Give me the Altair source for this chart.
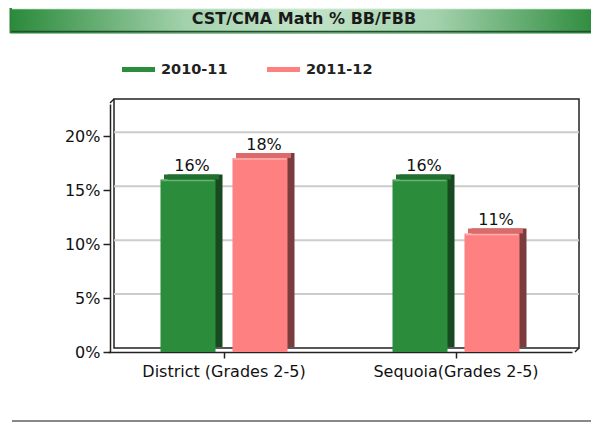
import altair as alt
import pandas as pd

# ---- data ----
categories = ["District (Grades 2-5)", "Sequoia(Grades 2-5)"]
series = ["2010-11", "2011-12"]
values_2010_11 = [16, 16]
values_2011_12 = [18, 11]
y_ticks = [0, 5, 10, 15, 20]
grid_ticks = [5, 10, 15, 20]
title_text = "CST/CMA Math % BB/FBB"

# ---- styles ----
front_colors = ["#2b8c3c", "#ff8080"]
top_colors = ["#22702f", "#dc6a6a"]
side_colors = ["#174a20", "#7a3c3c"]
hl_colors = ["#7cc488", "#ffc4c4"]
bar_offsets = [-36, 36]
FONT = "DejaVu Sans"
W, H = 465, 248

rows = []
for s, vals in zip(series, [values_2010_11, values_2011_12]):
    for c, v in zip(categories, vals):
        rows.append({"category": c, "series": s, "value": v})
df = pd.DataFrame(rows)

x_scale = alt.Scale(domain=categories, range=[-2, 462], paddingInner=0, paddingOuter=0)
y_scale = alt.Scale(domain=[0, 23], nice=False, zero=True)

x_axis = alt.Axis(title=None, labelAngle=0, labelFont=FONT, labelFontSize=16,
                  labelColor="#111", tickSize=6, tickColor="#222", tickWidth=1.5,
                  domainColor="#222", domainWidth=1.5, labelPadding=5, grid=False)
y_axis = alt.Axis(title=None, values=y_ticks, labelExpr="datum.value + '%'",
                  labelFont=FONT, labelFontSize=16, labelColor="#111", tickSize=7,
                  tickColor="#222", tickWidth=1.5, domainColor="#222", domainWidth=1.5,
                  grid=False, labelPadding=3)


def X():
    return alt.X("category:N", sort=categories, scale=x_scale, axis=x_axis)


def Y(field="value"):
    return alt.Y(f"{field}:Q", scale=y_scale, axis=y_axis)


one = pd.DataFrame({"t": [title_text]})


def rule(x1, y1, x2, y2, color, width):
    return alt.Chart(one).mark_rule(color=color, strokeWidth=width).encode(
        x=alt.value(x1), y=alt.value(y1), x2=alt.value(x2), y2=alt.value(y2))


# header band
header_grad = alt.Gradient(gradient="linear", x1=0, x2=1, y1=0, y2=0, stops=[
    alt.GradientStop(offset=0, color="#2a8a3a"),
    alt.GradientStop(offset=0.3, color="#a4d2ad"),
    alt.GradientStop(offset=0.5, color="#c2e3c8"),
    alt.GradientStop(offset=0.72, color="#a4d2ad"),
    alt.GradientStop(offset=1, color="#2a8a3a"),
])
header = alt.Chart(one).mark_rect(fill=header_grad, stroke="#2f7f3f", strokeWidth=1).encode(
    x=alt.value(-100), x2=alt.value(490), y=alt.value(-100), y2=alt.value(-71))
header_hl = rule(-98, -95.5, 490, -95.5, "#e8f5ea", 1.5)
header_dk = rule(-99, -72.5, 490, -72.5, "#1d5528", 1.5)
title = alt.Chart(one).mark_text(font=FONT, fontSize=16, fontWeight="bold", color="#1a1a1a",
                                 align="center", baseline="middle").encode(
    x=alt.value(194), y=alt.value(-85), text="t:N")

# 3D box
back_wall = alt.Chart(one).mark_rect(fill="white", stroke="#222", strokeWidth=1.5).encode(
    x=alt.value(4), x2=alt.value(469), y=alt.value(-5), y2=alt.value(244))
grid_df = pd.DataFrame({"v": grid_ticks})
grid = alt.Chart(grid_df).mark_rule(color="#cccccc", strokeWidth=2, yOffset=-4).encode(
    y=Y("v"), x=alt.value(4), x2=alt.value(469))
diag_tl = rule(0, -1, 4, -5, "#222", 1.5)
diag_br = rule(465, 248, 469, 244, "#222", 1.5)
bottom_line = rule(-98, 317, 490, 317, "#888888", 2)

layers = [header, header_hl, header_dk, title, back_wall, grid, diag_tl, diag_br, bottom_line]

legend = alt.Legend(title=None, orient="none", legendX=12, legendY=-51, direction="horizontal",
                    symbolType="M-1,-0.15H1V0.15H-1Z", symbolSize=1089, symbolStrokeWidth=0,
                    labelFont=FONT, labelFontWeight="bold", labelFontSize=14.5, labelColor="#222",
                    labelOffset=6, columnPadding=39, padding=0, symbolOpacity=1)

for i, s in enumerate(series):
    off = bar_offsets[i]
    base = alt.Chart(df).transform_filter(alt.datum.series == s)
    side = base.mark_bar(width=55, xOffset=off + 7, yOffset=-5, y2Offset=-5,
                         color=side_colors[i]).encode(x=X(), y=Y())
    top = base.mark_bar(width=55, xOffset=off + 3.5, yOffset=-5,
                        color=top_colors[i]).encode(x=X(), y=Y(), y2="value:Q")
    front = base.mark_bar(width=55, xOffset=off).encode(
        x=X(), y=Y(),
        color=alt.Color("series:N", scale=alt.Scale(domain=series, range=front_colors),
                        legend=legend))
    hl = base.mark_tick(size=53, thickness=1.5, xOffset=off, yOffset=1,
                        color=hl_colors[i]).encode(x=X(), y=Y())
    lbl = base.transform_calculate(label="datum.value + '%'").mark_text(
        font=FONT, fontSize=16, color="#111", baseline="alphabetic", dy=-8,
        xOffset=off + 4).encode(x=X(), y=Y(), text="label:N")
    layers += [side, top, front, hl, lbl]

chart = alt.layer(*layers).properties(
    width=W, height=H,
    autosize=alt.AutoSizeParams(type="none"),
    padding={"left": 102, "top": 96, "right": 16, "bottom": 70},
    background="white",
).configure_view(stroke="transparent")

chart.save("out.html", embed_options={"renderer": "svg", "actions": False})
